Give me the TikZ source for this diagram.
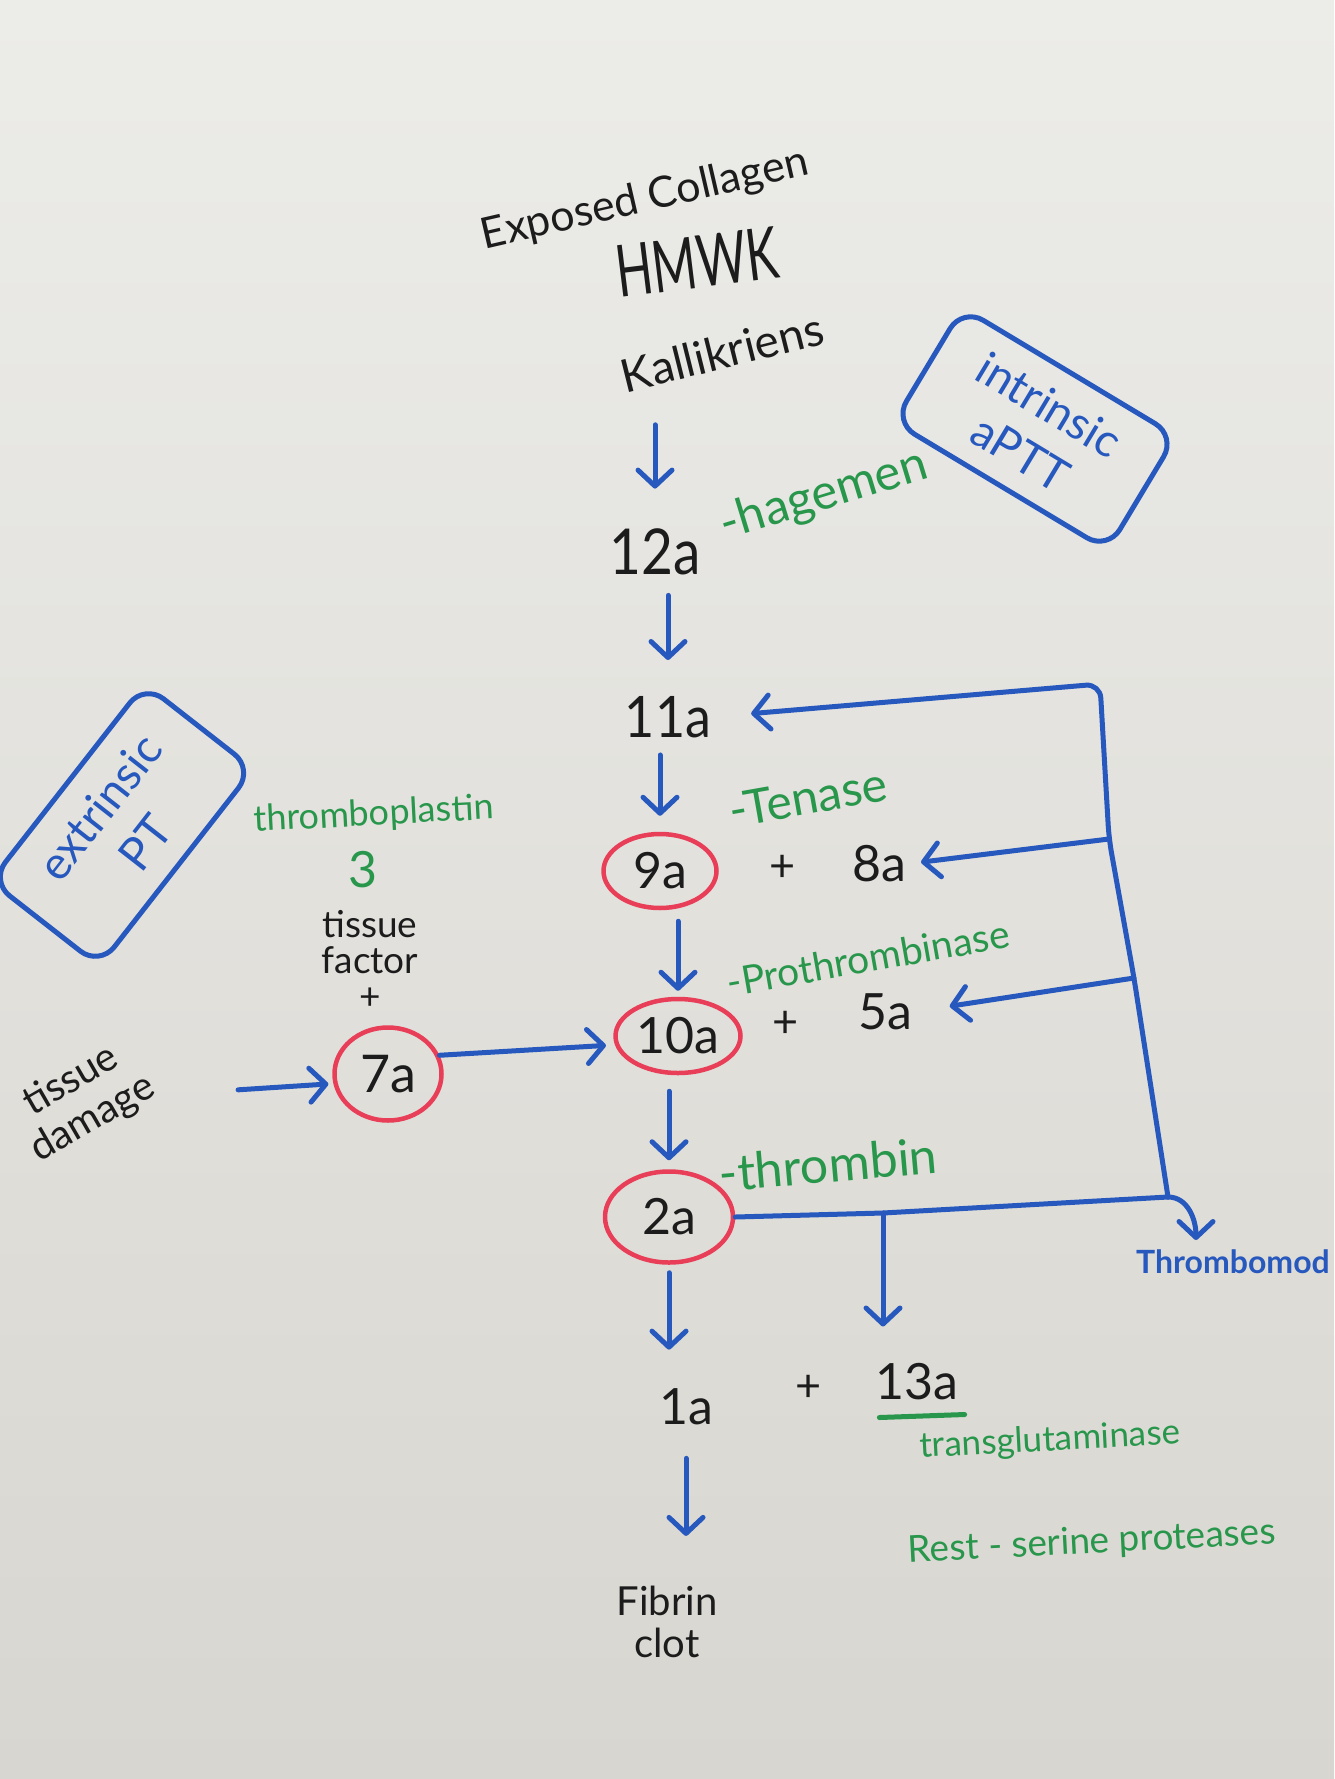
\documentclass[tikz,border=0pt]{standalone}
\usepackage{fontspec}
\setmainfont{Lato}
\usetikzlibrary{arrows.meta,shapes.geometric,calc}
\definecolor{mblue}{RGB}{38,88,190}
\definecolor{mgreen}{RGB}{40,150,75}
\definecolor{mred}{RGB}{232,62,88}
\definecolor{mblack}{RGB}{28,28,28}
\definecolor{bgtop}{RGB}{236,236,233}
\definecolor{bgbot}{RGB}{216,214,208}
\begin{document}
\begin{tikzpicture}[x=1pt,y=-1pt,
  blk/.style={inner sep=0pt,text=mblack},
  grn/.style={inner sep=0pt,text=mgreen},
  blu/.style={inner sep=0pt,text=mblue},
  ring/.style={ellipse,draw=mred,line width=4.5pt,inner sep=0pt,text=mblack,font=\fontsize{50}{50}\selectfont},
  tagbox/.style={draw=mblue,line width=5pt,rounded corners=24pt,text=mblue,align=center,inner sep=0pt},
  bline/.style={draw=mblue,line width=5pt,line cap=round,line join=round},
  arr/.style={bline,-{Straight Barb[length=16pt,width=34pt,round]}},
  gline/.style={draw=mgreen,line width=5pt,line cap=round}]
\useasboundingbox (0,0) rectangle (1334,1779);
\shade[top color=bgtop,bottom color=bgbot] (0,0) rectangle (1334,1779);

% top inputs
\node[blk,font=\fontsize{43}{48}\selectfont,rotate=13] (ec) at (645,200) {Exposed Collagen};
\node[blk,font=\fontsize{48}{50}\selectfont,rotate=7,yscale=1.5] (hmwk) at (697,262) {HMWK};
\node[blk,font=\fontsize{46}{50}\selectfont,rotate=14] (kal) at (722,352) {Kallikriens};

% main column
\node[blk,font=\fontsize{55}{55}\selectfont,yscale=1.15] (f12) at (655,552) {12a};
\node[grn,font=\fontsize{49}{52}\selectfont,rotate=17] (hag) at (824,496) {-hagemen};
\node[tagbox,minimum width=249pt,minimum height=133pt,rotate=-31,font=\fontsize{46}{56}\selectfont] (intr) at (1035,429) {intrinsic\\aPTT};

\node[blk,font=\fontsize{52}{52}\selectfont,yscale=1.1] (f11) at (668,717) {11a};
\node[ring,minimum width=113pt,minimum height=74pt] (f9) at (660,871) {9a};
\node[grn,font=\fontsize{48}{50}\selectfont,rotate=10] (ten) at (808,797) {-Tenase};
\node[blk,font=\fontsize{45}{45}\selectfont] (p8) at (783,868) {+};
\node[blk,font=\fontsize{50}{50}\selectfont] (f8) at (879,864) {8a};

\node[ring,minimum width=125pt,minimum height=74pt] (f10) at (678,1036) {10a};
\node[grn,font=\fontsize{39}{44}\selectfont,rotate=10] (pro) at (868,958) {-Prothrombinase};
\node[blk,font=\fontsize{45}{45}\selectfont] (p5) at (786,1024) {+};
\node[blk,font=\fontsize{50}{50}\selectfont] (f5) at (885,1012) {5a};

\node[ring,minimum width=128pt,minimum height=91pt] (f2) at (669,1217) {2a};
\node[grn,font=\fontsize{50}{52}\selectfont,rotate=5] (thr) at (828,1164) {-thrombin};

\node[blk,font=\fontsize{50}{50}\selectfont] (f1) at (686,1407) {1a};
\node[blk,font=\fontsize{45}{45}\selectfont] (p13) at (809,1388) {+};
\node[blk,font=\fontsize{50}{50}\selectfont] (f13) at (917,1382) {13a};
\node[grn,font=\fontsize{35}{40}\selectfont,rotate=3] (tg) at (1050,1441) {transglutaminase};
\node[blk,font=\fontsize{40}{42}\selectfont,align=center] (fib) at (667,1622) {Fibrin\\clot};
\node[grn,font=\fontsize{37}{40}\selectfont,rotate=3] (rest) at (1092,1543) {Rest - serine proteases};

% extrinsic side
\node[tagbox,minimum width=250pt,minimum height=138pt,rotate=52,font=\fontsize{46}{58}\selectfont] (extr) at (122,825) {extrinsic\\PT};
\node[grn,font=\fontsize{36}{40}\selectfont,rotate=3] (tp) at (374,815) {thromboplastin};
\node[grn,font=\fontsize{50}{50}\selectfont] (three) at (363,870) {3};
\node[blk,font=\fontsize{37}{36}\selectfont,align=center] (tf) at (370,960) {tissue\\factor\\+};
\node[ring,minimum width=107pt,minimum height=93pt,font=\fontsize{52}{52}\selectfont] (f7) at (388,1074) {7a};
\node[blk,font=\fontsize{40}{44}\selectfont,align=center,rotate=30] (tdam) at (82,1100) {tissue\\damage};

\node[blu,font=\bfseries\fontsize{32}{36}\selectfont,anchor=north west] (tm) at (1136,1250) {Thrombomod};

% main arrows
\draw[arr,shorten <=56pt,shorten >=40pt] (f12.north |- kal.south) -- (f12.north);
\draw[arr,shorten <=20pt,shorten >=36pt] (f11.north |- f12.south) -- (f11.north);
\draw[arr,shorten <=17pt,shorten >=16pt] (f9.north |- f11.south) -- (f9.north);
\draw[arr,shorten <=11pt,shorten >=6pt] (f10.north |- f9.south) -- (f10.north);
\draw[arr,shorten <=16pt,shorten >=9pt] (f10.south -| f2.north) -- (f2.north);
\draw[arr,shorten <=8pt,shorten >=39pt] (f2.south) -- (f2.south |- f1.north);
\draw[arr,shorten <=33pt,shorten >=50pt] (f1.south) -- (f1.south |- fib.north);

% extrinsic arrows
\draw[arr,shorten <=80pt,shorten >=5pt] (tdam) -- (f7.190);
\draw[arr,shorten >=9pt] (f7.20) -- (f10.188);

% 13a underline
\draw[gline] ($(f13.south west)+(4,17)$) -- ($(f13.south east)+(6,14)$);

% feedback bus from thrombin
\coordinate (j13) at (883,1213);
\coordinate (jbot) at (1168,1197);
\coordinate (j5) at (1134,978);
\coordinate (j8) at (1109,839);
\coordinate (jtop) at (1100,684);
\draw[bline] (f2.east) -- (j13) -- (jbot);
\draw[arr,shorten >=37pt] (j13) -- (j13 |- f13.north);
\draw[arr,rounded corners=14pt,shorten >=40pt] (jbot) -- (j5) -- (j8) -- (jtop) -- (f11.east);
\draw[arr,shorten >=15pt] (j8) -- (f8.east);
\draw[arr,shorten >=38pt] (j5) -- (f5.east);
\draw[arr] (jbot) to[out=0,in=90] ($(tm.north west)+(60,-10)$);
\end{tikzpicture}
\end{document}
